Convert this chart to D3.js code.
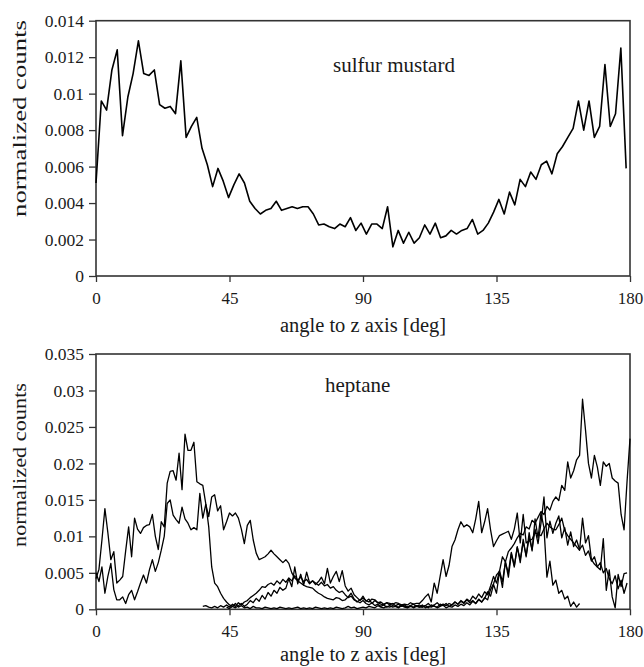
<!DOCTYPE html>
<html><head><meta charset="utf-8">
<script src="https://cdn.jsdelivr.net/npm/d3@7"></script>
<style>
body{margin:0;background:#fff}
svg{display:block}
text{font-family:"Liberation Serif","Times New Roman",serif;fill:#1a1a1a}
</style>
</head><body>
<svg id="chart" width="644" height="667"></svg>
<script>
// ---------- data ----------
const xTickValues = [0, 45, 90, 135, 180];
const xTickLabels = ["0", "45", "90", "135", "180"];

const sulfurYTicks = [0, 0.002, 0.004, 0.006, 0.008, 0.01, 0.012, 0.014];
const sulfurYLabels = ["0", "0.002", "0.004", "0.006", "0.008", "0.01", "0.012", "0.014"];
const sulfurBinDeg = 1.787;
const sulfurCounts = [
0.0051,0.0096,0.0091,0.0113,0.0124,0.0077,0.0098,0.0111,0.0129,0.0111,
0.0110,0.0113,0.0094,0.0092,0.0093,0.0089,0.0118,0.0076,0.0082,0.0087,
0.0070,0.0061,0.0049,0.0059,0.0052,0.0043,0.0050,0.0056,0.0051,0.0041,
0.0037,0.0034,0.0036,0.0037,0.0041,0.0036,0.0037,0.0038,0.0037,0.0038,
0.0038,0.0034,0.0028,
0.00285,0.0027,0.0026,0.00285,0.0027,0.0032,0.0025,0.0029,0.0023,0.00285,
0.00285,0.0026,0.0038,0.0016,0.0025,0.0018,0.0024,0.0018,0.0021,0.0028,
0.0023,0.0029,0.0021,0.0022,0.0025,0.0023,0.0025,0.0026,0.0031,0.0023,
0.0025,0.0029,0.0035,0.0042,0.0034,0.0046,0.0039,0.0053,0.0049,0.0057,
0.0053,0.0061,0.0063,0.0056,0.0067,0.0071,0.0076,0.0081,0.0096,0.0080,
0.0096,0.0076,0.0082,0.0116,0.0082,0.0089,0.0125,0.0059];

const heptaneYTicks = [0, 0.005, 0.01, 0.015, 0.02, 0.025, 0.03, 0.035];
const heptaneYLabels = ["0", "0.005", "0.01", "0.015", "0.02", "0.025", "0.03", "0.035"];
const heptaneBinDeg = 1;

const heptaneAStart = 0;
const heptaneA = [
0.0042,0.0055,0.0095,0.0138,0.0105,0.0068,0.0079,0.0036,0.0040,0.0045,
0.0080,0.0113,0.0072,0.0125,0.0110,0.0104,0.0112,0.0115,0.0116,0.0130,
0.0100,0.0082,0.0120,0.0113,0.0173,0.0189,0.0190,0.0177,0.0214,0.0164,
0.0240,0.0218,0.0218,0.0229,0.0175,0.0172,0.0170,0.0145,0.0113,0.0058,
0.0036,0.0031,0.0022,0.0015,0.0010,0.0006,0.0004,0.0008,
0.0003,0.0005,0.0002,0.0003,0.0001,0.0004,0.0002,0.0002,0.0001,0.0003,
0.0002,0.0001,0.0002,0.0001,0.0003,0.0002,0.0001,0.0002,0.0001,0.0002,
0.0003,0.0001,0.0002,0.0001,0.0002,0.0001,0.0003,0.0002,0.0001,0.0002,
0.0001,0.0002,0.0001,0.0003,0.0002,0.0001,0.0002,0.0004,0.0002,0.0003,
0.0001,0.0002,0.0003,0.0002,0.0004,0.0003,0.0002,0.0005,0.0003,0.0002,
0.0004,0.0003,0.0005,0.0004,0.0003,0.0006,0.0004,0.0003,0.0005,0.0007,
0.0004,0.0006,0.0003,0.0005,0.0008,0.0004,0.0006,0.0009,0.0005,0.0007,
0.0005,0.0008,0.0006,0.0010,0.0007,0.0011,0.0008,0.0013,0.0009,0.0012,0.0008,0.0014,0.0010,
0.0016,0.0013,0.0027,0.0035,0.0047,0.0052,0.0072,0.0065,0.0079,0.0084,
0.0090,0.0098,0.0104,0.0102,0.0113,0.0110,0.0122,0.0118,0.0126,0.0134,
0.0130,0.0141,0.0136,0.0148,0.0154,0.0149,0.0170,0.0163,0.0202,0.0180,
0.0190,0.0205,0.0211,0.0288,0.0246,0.0200,0.0180,0.0211,0.0195,0.0170,
0.0202,0.0196,0.0200,0.0180,0.0176,0.0173,0.0130,0.0109,0.0175,0.0234];

const heptaneBStart = 0;
const heptaneB = [
0.0050,0.0038,0.0058,0.0022,0.0045,0.0063,0.0027,0.0013,0.0013,0.0017,
0.0008,0.0020,0.0026,0.0013,0.0024,0.0036,0.0047,0.0036,0.0054,0.0068,
0.0052,0.0064,0.0081,0.0100,0.0145,0.0150,0.0129,0.0123,0.0118,0.0140,
0.0124,0.0118,0.0109,0.0112,0.0109,0.0159,0.0125,0.0144,0.0127,0.0154,
0.0157,0.0135,0.0142,0.0109,0.0120,0.0132,0.0128,0.0132,0.0125,0.0110,
0.0090,0.0115,0.0122,0.0095,0.0077,0.0068,0.0070,0.0072,0.0076,0.0081,
0.0076,0.0072,0.0068,0.0064,0.0068,0.0063,0.0050,0.0043,0.0039,0.0036,
0.0033,0.0031,0.0030,0.0029,0.0025,0.0022,0.0020,0.0017,0.0015,0.0014,
0.0013,0.0016,0.0015,0.0012,0.0013,0.0017,0.0022,0.0014,0.0010,0.0013,
0.0015,0.0012,0.0010,0.0014,0.0013,0.0009,0.0007,0.0006,0.0009,0.0008,
0.0007,0.0009,0.0008,0.0006,0.0007,0.0006,0.0009,0.0007,0.0008,0.0008,
0.0012,0.0017,0.0021,0.0010,0.0036,0.0022,0.0045,0.0068,0.0045,0.0060,
0.0086,0.0095,0.0109,0.0120,0.0113,0.0116,0.0113,0.0105,0.0124,0.0148,
0.0105,0.0120,0.0138,0.0109,0.0086,0.0094,0.0101,0.0103,0.0105,0.0107,
0.0096,0.0110,0.0132,0.0091,0.0130,0.0091,0.0094,0.0096,0.0105,0.0103,
0.0101,0.0110,0.0118,0.0113,0.0110,0.0109,0.0116,0.0125,0.0108,0.0101,
0.0096,0.0091,0.0086,0.0081,0.0125,0.0091,0.0101,0.0068,0.0062,0.0058,
0.0054,0.0097,0.0026,0.0054,0.0017,0.0002,0.0048,0.0031,0.0049,0.0050];

const heptaneCStart = 36;
const heptaneC = [
0.0004,0.0005,0.0003,0.0002,0.0004,0.0002,0.0005,0.0003,0.0006,0.0003,
0.0007,0.0004,0.0009,0.0006,0.0010,0.0012,0.0016,0.0019,0.0022,0.0026,
0.0031,0.0030,0.0034,0.0036,0.0033,0.0039,0.0035,0.0041,0.0037,0.0043,
0.0039,0.0046,0.0040,0.0044,0.0038,0.0041,0.0035,0.0039,0.0036,0.0033,
0.0037,0.0032,0.0034,0.0029,0.0031,0.0026,0.0023,0.0025,0.0020,0.0016,
0.0018,0.0013,0.0011,0.0009,0.0012,0.0008,0.0006,0.0009,0.0005,0.0007,
0.0004,0.0006,0.0003,0.0005,0.0003,0.0004,0.0002,0.0005,0.0003,0.0002,
0.0004,0.0003,0.0005,0.0003,0.0003,0.0005,0.0002,0.0006,0.0004,0.0003,
0.0007,0.0005,0.0008,0.0004,0.0006,0.0010,0.0007,0.0012,0.0009,0.0014,
0.0011,0.0018,0.0014,0.0021,0.0016,0.0024,0.0020,0.0032,0.0045,0.0036,
0.0053,0.0038,0.0064,0.0050,0.0078,0.0060,0.0085,0.0068,0.0092,0.0074,
0.0098,0.0082,0.0110,0.0090,0.0118,0.0154,0.0098,0.0121,0.0104,0.0118,
0.0128,0.0098,0.0112,0.0088,0.0106,0.0086,0.0095,0.0082,0.0088,0.0074,
0.0080,0.0066,0.0072,0.0058,0.0064,0.0050,0.0056,0.0042,0.0035,0.0046,
0.0028,0.0040,0.0022,0.0036];

const heptaneDStart = 44;
const heptaneD = [
0.0003,0.0001,0.0004,0.0002,0.0005,0.0008,0.0004,0.0007,0.0012,0.0009,
0.0015,0.0011,0.0019,0.0014,0.0023,0.0018,0.0026,0.0022,0.0030,0.0026,
0.0029,0.0042,0.0031,0.0058,0.0035,0.0048,0.0033,0.0051,0.0036,0.0039,
0.0034,0.0038,0.0044,0.0035,0.0056,0.0036,0.0045,0.0052,0.0038,0.0053,
0.0032,0.0025,0.0029,0.0020,0.0016,0.0012,0.0018,0.0011,0.0014,0.0008,
0.0012,0.0009,0.0010,0.0007,0.0009,0.0006,0.0008,0.0005,0.0007,0.0004,
0.0006,0.0003,0.0005,0.0002,0.0004,0.0003,0.0006,0.0002,0.0004,0.0003,
0.0005,0.0002,0.0004,0.0006,0.0002,0.0004,0.0003,0.0006,0.0004,0.0007,
0.0005,0.0009,0.0006,0.0011,0.0008,0.0013,0.0010,0.0015,0.0024,0.0018,
0.0034,0.0022,0.0052,0.0030,0.0066,0.0044,0.0076,0.0058,0.0086,0.0064,
0.0096,0.0072,0.0105,0.0080,0.0124,0.0098,0.0132,0.0112,0.0044,0.0066,
0.0033,0.0040,0.0022,0.0026,0.0014,0.0018,0.0004,0.0010,0.0003,0.0008];

// ---------- drawing ----------
const svg = d3.select("#chart");
const x = d3.scaleLinear().domain([0, 180]).range([96, 630]);
const axisColor = "#333";

function toPoints(values, start, step) {
  return values.map((v, i) => ({a: start + i * step, v: v}));
}

function panel(opt) {
  const y = d3.scaleLinear().domain([0, opt.yMax]).range([opt.bottom, opt.top]);
  const g = svg.append("g");

  // y axis
  const ya = g.append("g").attr("transform", `translate(${x(0)},0)`)
    .call(d3.axisLeft(y).tickValues(opt.yTicks)
      .tickFormat((d, i) => opt.yLabels[i]).tickSize(7).tickSizeOuter(0).tickPadding(5));
  ya.select(".domain").remove();
  ya.selectAll("line").attr("stroke", axisColor).attr("stroke-width", 1.3);
  ya.selectAll("text").attr("font-size", 17.5).attr("font-family", '"Liberation Serif",serif').attr("fill", "#1a1a1a");

  // x axis
  const xa = g.append("g").attr("transform", `translate(0,${opt.bottom})`)
    .call(d3.axisBottom(x).tickValues(xTickValues)
      .tickFormat((d, i) => xTickLabels[i]).tickSize(6).tickSizeOuter(0).tickPadding(10));
  xa.select(".domain").remove();
  xa.selectAll("line").attr("stroke", axisColor).attr("stroke-width", 1.3);
  xa.selectAll("text").attr("font-size", 17).attr("font-family", '"Liberation Serif",serif').attr("fill", "#1a1a1a");

  // frame
  g.append("rect").attr("x", x(0)).attr("y", opt.top)
    .attr("width", x(180) - x(0)).attr("height", opt.bottom - opt.top)
    .attr("fill", "none").attr("stroke", axisColor).attr("stroke-width", 1.6);

  // series
  const line = d3.line().defined(d => d.v != null).x(d => x(d.a)).y(d => y(d.v));
  opt.series.forEach(s => {
    g.append("path").datum(s).attr("d", line)
      .attr("fill", "none").attr("stroke", "#000")
      .attr("stroke-width", opt.lineWidth).attr("stroke-linejoin", "round");
  });

  // panel title
  g.append("text").attr("x", opt.titleX).attr("y", opt.titleY)
    .attr("font-size", 21).text(opt.title);

  // axis titles
  g.append("text").attr("x", (x(0) + x(180)) / 2).attr("y", opt.xTitleY)
    .attr("text-anchor", "middle").attr("font-size", 20.5).text("angle to z axis [deg]");
  g.append("text")
    .attr("transform", `translate(26,${opt.yTitleCenter}) rotate(-90)`)
    .attr("text-anchor", "middle").attr("font-size", 19)
    .attr("textLength", opt.yTitleLen).attr("lengthAdjust", "spacingAndGlyphs")
    .text("normalized counts");
}

panel({
  top: 20.7, bottom: 276, yMax: 0.014,
  yTicks: sulfurYTicks, yLabels: sulfurYLabels,
  series: [toPoints(sulfurCounts, 0, sulfurBinDeg)],
  lineWidth: 1.6,
  title: "sulfur mustard", titleX: 333, titleY: 72,
  xTitleY: 332, yTitleCenter: 118.5, yTitleLen: 197
});

panel({
  top: 354, bottom: 609.3, yMax: 0.035,
  yTicks: heptaneYTicks, yLabels: heptaneYLabels,
  series: [
    toPoints(heptaneA, heptaneAStart, heptaneBinDeg),
    toPoints(heptaneB, heptaneBStart, heptaneBinDeg),
    toPoints(heptaneC, heptaneCStart, heptaneBinDeg),
    toPoints(heptaneD, heptaneDStart, heptaneBinDeg)
  ],
  lineWidth: 1.3,
  title: "heptane", titleX: 325, titleY: 392,
  xTitleY: 661, yTitleCenter: 465, yTitleLen: 164
});
</script>
</body></html>
